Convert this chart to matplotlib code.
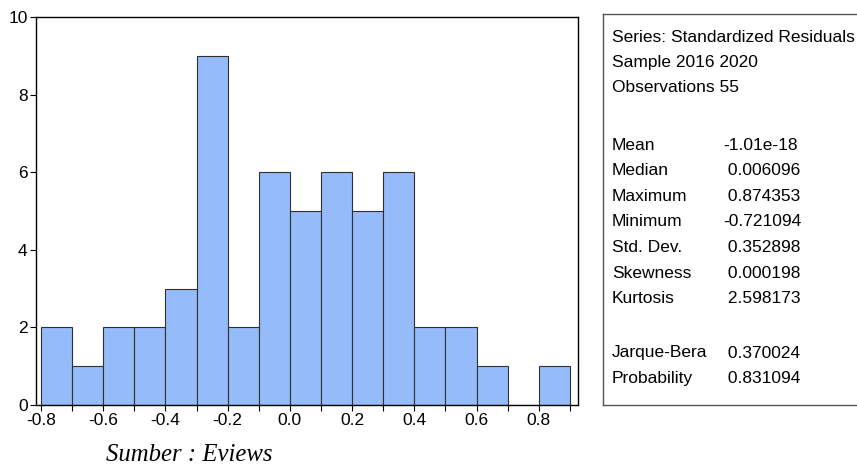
import matplotlib.pyplot as plt
import numpy as np

BAR_COLOR = '#96bbfb'
EDGE_COLOR = '#303030'

bin_edges = [-0.8, -0.7, -0.6, -0.5, -0.4, -0.3, -0.2, -0.1, 0.0,
             0.1, 0.2, 0.3, 0.4, 0.5, 0.6, 0.7, 0.8, 0.9]
counts = [2, 1, 2, 2, 3, 9, 2, 6, 5, 6, 5, 6, 2, 2, 1, 0, 1]

x_ticks = [-0.8, -0.6, -0.4, -0.2, 0.0, 0.2, 0.4, 0.6, 0.8]
y_ticks = [0, 2, 4, 6, 8, 10]

stat_header = ['Series: Standardized Residuals', 'Sample 2016 2020', 'Observations 55']
stat_names = ['Mean', 'Median', 'Maximum', 'Minimum', 'Std. Dev.', 'Skewness', 'Kurtosis']
stat_values = ['-1.01e-18', ' 0.006096', ' 0.874353', '-0.721094', ' 0.352898', ' 0.000198', ' 2.598173']
test_names = ['Jarque-Bera', 'Probability']
test_values = [' 0.370024', ' 0.831094']

plt.rcParams['font.family'] = ['Liberation Sans', 'DejaVu Sans']

fig = plt.figure(figsize=(8.57, 4.68), dpi=100)
fig.patch.set_facecolor('white')

ax = fig.add_axes([36 / 857, 1 - 405 / 468, 542 / 857, 388 / 468])
edges = np.array(bin_edges)
ax.bar(edges[:-1], counts, width=np.diff(edges), align='edge',
       color=BAR_COLOR, edgecolor=EDGE_COLOR, linewidth=0.8)

ax.set_xlim(-0.816, 0.926)
ax.set_ylim(0, 10)
ax.set_xticks(x_ticks)
ax.set_xticklabels(['{:.1f}'.format(v) for v in x_ticks])
ax.set_xticks(edges, minor=True)
ax.set_yticks(y_ticks)
ax.tick_params(axis='both', direction='out', labelsize=12.5, length=4, width=0.8, colors='black')
ax.tick_params(axis='x', which='minor', direction='out', length=4, width=0.8)
ax.tick_params(axis='x', pad=2)
ax.tick_params(axis='y', pad=2)
for s in ax.spines.values():
    s.set_linewidth(1.0)
    s.set_color('black')

# statistics box (right side runs past the image edge)
box = fig.add_axes([603 / 857, 1 - 405 / 468, 280 / 857, 391 / 468])
box.set_xticks([])
box.set_yticks([])
box.set_xlim(0, 280)
box.set_ylim(391, 0)
for s in box.spines.values():
    s.set_linewidth(1.0)
    s.set_color('#555555')

fs = 12.5
y = 23
for line in stat_header:
    box.text(9, y, line, fontsize=fs, va='center', ha='left')
    y += 25.5
y = 131
for name, val in zip(stat_names, stat_values):
    box.text(9, y, name, fontsize=fs, va='center', ha='left')
    box.text(120, y, val, fontsize=fs, va='center', ha='left')
    y += 25.6
y = 339
for name, val in zip(test_names, test_values):
    box.text(9, y, name, fontsize=fs, va='center', ha='left')
    box.text(120, y, val, fontsize=fs, va='center', ha='left')
    y += 25.6

fig.text(106 / 857, 1 - 455 / 468, 'Sumber : Eviews', fontsize=17.8, style='italic',
         family='Liberation Serif', va='center', ha='left')

fig.savefig('out.png', dpi=100)
